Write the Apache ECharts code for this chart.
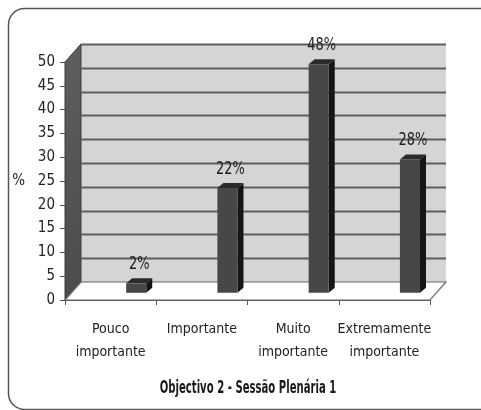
<!DOCTYPE html>
<html>
<head>
<meta charset="utf-8">
<script src="https://cdn.jsdelivr.net/npm/echarts@6/dist/echarts.min.js"></script>
<style>
  html, body { margin: 0; padding: 0; background: #ffffff; }
  #chart { width: 481px; height: 410px; }
</style>
</head>
<body>
<div id="chart"></div>
<script>
// Survey answers: share of participants per importance level
const categories = ['Pouco\nimportante', 'Importante', 'Muito\nimportante', 'Extremamente\nimportante'];
const percentages = [2, 22, 48, 28];
const yTicks = [0, 5, 10, 15, 20, 25, 30, 35, 40, 45, 50];
const chartTitle = 'Objectivo 2 - Sessão Plenária 1';
const yAxisName = '%';

const FONT = "'Liberation Sans Narrow', 'DejaVu Sans Condensed', sans-serif";

// pseudo-3D geometry: back wall offset relative to the front plane
const DX = 16, DY = -18;
const BAR_DEPTH = 0.4;    // bars stand at this fraction of the floor depth
const BAR_SHIFT = 0.21;   // horizontal shift of a bar inside its band
const BAR_W = 0.22;       // bar width as a fraction of the band
const SIDE_DX = 6, SIDE_DY = -5;

const chart = echarts.init(document.getElementById('chart'), null, { renderer: 'canvas' });

function renderWalls(params, api) {
  const cs = params.coordSys;
  const x0 = cs.x, x1 = cs.x + cs.width;
  const yTop = cs.y, yBot = cs.y + cs.height;
  const children = [];
  // back wall
  children.push({
    type: 'rect',
    shape: { x: x0 + DX, y: yTop + DY, width: cs.width, height: cs.height },
    style: { fill: '#d5d5d5' }
  });
  // left wall
  children.push({
    type: 'polygon',
    shape: { points: [[x0, yTop], [x0 + DX, yTop + DY], [x0 + DX, yBot + DY], [x0, yBot]] },
    style: {
      fill: new echarts.graphic.LinearGradient(0, 0, 0, 1, [
        { offset: 0, color: '#5e5e5e' },
        { offset: 1, color: '#4c4c4c' }
      ]),
      stroke: '#3c3c3c', lineWidth: 1
    }
  });
  // floor
  children.push({
    type: 'polygon',
    shape: { points: [[x0, yBot], [x0 + DX, yBot + DY], [x1 + DX, yBot + DY], [x1, yBot]] },
    style: { fill: '#ffffff', stroke: '#6a6a6a', lineWidth: 1.2 }
  });
  // grid lines on the back wall
  yTicks.forEach(function (v) {
    if (v === 0) return;
    const y = Math.round(api.coord([0, v])[1] + DY) + 0.5;
    children.push({
      type: 'line',
      shape: { x1: x0 + DX, y1: y, x2: x1 + DX, y2: y },
      style: { stroke: '#5f5f5f', lineWidth: 2 }
    });
  });
  return { type: 'group', children: children };
}

function renderBar(params, api) {
  const idx = api.value(0);
  const val = api.value(1);
  const base = api.coord([idx, 0]);
  const top = api.coord([idx, val]);
  const band = api.size([1, 0])[0];
  const cx = base[0] + BAR_SHIFT * band + BAR_DEPTH * DX;
  const w = BAR_W * band;
  const yb = base[1] + BAR_DEPTH * DY;
  const yt = top[1] + BAR_DEPTH * DY;
  const l = cx - w / 2, r = cx + w / 2;
  return {
    type: 'group',
    children: [
      {
        type: 'polygon',
        shape: { points: [[r, yt], [r + SIDE_DX, yt + SIDE_DY], [r + SIDE_DX, yb + SIDE_DY], [r, yb]] },
        style: { fill: '#151515' }
      },
      {
        type: 'polygon',
        shape: { points: [[l, yt], [l + SIDE_DX, yt + SIDE_DY], [r + SIDE_DX, yt + SIDE_DY], [r, yt]] },
        style: { fill: '#2a2a2a' }
      },
      {
        type: 'rect',
        shape: { x: l, y: yt, width: w, height: yb - yt },
        style: { fill: '#474747' }
      },
      {
        type: 'text',
        x: cx + 3, y: yt - 19,
        scaleX: 0.8,
        style: {
          x: 0, y: 0,
          text: val + '%',
          align: 'center', verticalAlign: 'middle',
          font: '18px ' + FONT,
          fill: '#1e1e1e'
        }
      }
    ]
  };
}

chart.setOption({
  animation: false,
  backgroundColor: '#ffffff',
  graphic: [
    {
      type: 'rect',
      shape: { x: 8.5, y: 8.5, width: 490, height: 401, r: 16 },
      style: { fill: 'none', stroke: '#555555', lineWidth: 1.5 },
      silent: true,
      z: -10
    },
    {
      // chart caption under the category labels (condensed to a narrow face)
      type: 'text',
      x: 248, y: 389,
      scaleX: 0.66,
      style: {
        text: chartTitle,
        align: 'center', verticalAlign: 'middle',
        font: 'bold 17px ' + FONT,
        fill: '#1a1a1a'
      },
      silent: true
    }
  ],
  grid: { left: 65, right: 51, top: 62, bottom: 110 },
  xAxis: {
    type: 'category',
    data: categories,
    boundaryGap: true,
    axisLine: { show: true, lineStyle: { color: '#555555', width: 1 } },
    axisTick: { show: true, length: 5, interval: 0, lineStyle: { color: '#555555' } },
    axisLabel: {
      interval: 0, margin: 18,
      fontFamily: FONT, fontSize: 14, lineHeight: 23, color: '#222222'
    },
    splitLine: { show: false }
  },
  yAxis: {
    type: 'value',
    min: 0, max: 50, interval: 5,
    name: yAxisName,
    nameLocation: 'middle',
    nameRotate: 0,
    nameGap: 40,
    nameTextStyle: { fontFamily: FONT, fontSize: 15, color: '#222222' },
    axisLine: { show: true, lineStyle: { color: '#444444', width: 1 } },
    axisTick: { show: true, length: 5, lineStyle: { color: '#555555' } },
    axisLabel: { margin: 10, fontFamily: FONT, fontSize: 15, color: '#222222' },
    splitLine: { show: false }
  },
  series: [
    {
      type: 'custom',
      name: 'walls',
      silent: true,
      clip: false,
      z: 1,
      data: [[0, 0]],
      encode: { x: 0, y: 1 },
      renderItem: renderWalls
    },
    {
      type: 'custom',
      name: 'Percentagem',
      clip: false,
      z: 3,
      data: percentages.map(function (v, i) { return [i, v]; }),
      encode: { x: 0, y: 1 },
      renderItem: renderBar
    }
  ]
});
</script>
</body>
</html>
